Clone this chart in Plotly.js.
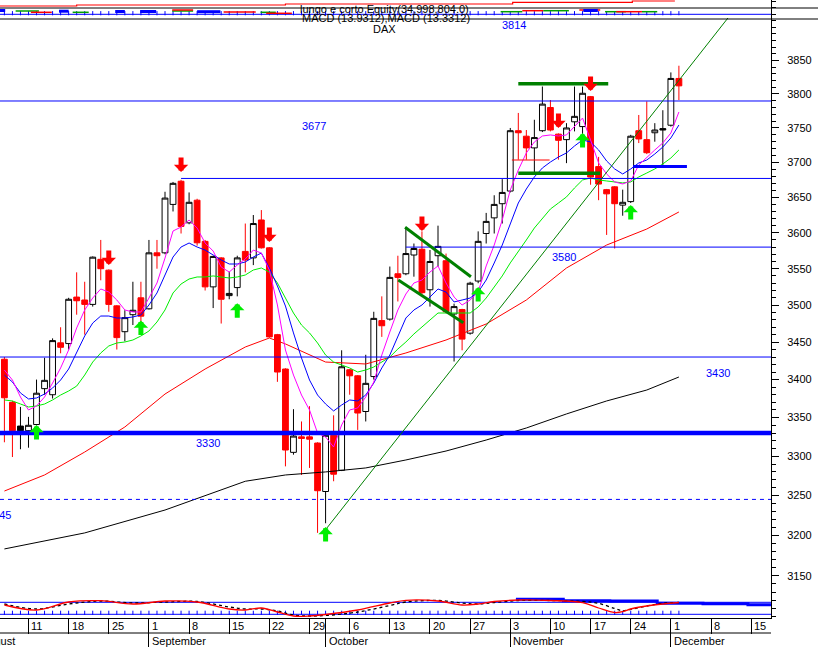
<!DOCTYPE html>
<html><head><meta charset="utf-8">
<script src="https://cdn.plot.ly/plotly-3.0.1.min.js"></script>
<style>html,body{margin:0;padding:0;background:#fff;}#chart{width:818px;height:647px;}</style>
</head><body><div id="chart"></div>
<script>
// ---------- DATA (DAX daily, 6 Aug 2003 .. 2 Dec 2003; x = trading-day index) ----------
const open  = [3427,3370,3339,3333,3341,3388,3380,3449,3448,3511,3507,3501,3563,3548,3499,3464,3487,3510,3495,3572,
               3572,3640,3673,3614,3646,3588,3525,3565,3513,3524,3574,3565,3618,3579,3460,3414,3305,3325,3325,3317,
               3255,3327,3282,3413,3405,3358,3404,3479,3481,3543,3543,3569,3577,3521,3568,3561,3488,3494,3462,3533,
               3599,3621,3641,3659,3746,3738,3721,3746,3780,3741,3733,3759,3752,3796,3694,3661,3665,3639,3644,3746,
               3733,3743,3747,3754,3823];
const high  = [3430,3372,3364,3351,3400,3429,3455,3470,3510,3545,3532,3567,3590,3549,3500,3493,3532,3532,3590,3590,
               3658,3672,3675,3657,3648,3590,3568,3566,3546,3568,3613,3625,3632,3580,3461,3415,3361,3345,3365,3318,
               3330,3353,3439,3414,3406,3433,3491,3512,3553,3568,3608,3585,3602,3576,3610,3571,3502,3495,3532,3602,
               3628,3653,3676,3750,3772,3747,3762,3811,3791,3742,3757,3811,3811,3797,3708,3662,3666,3661,3740,3769,
               3789,3757,3776,3832,3842];
const low   = [3318,3299,3309,3311,3340,3380,3375,3435,3440,3487,3460,3498,3534,3491,3440,3451,3473,3475,3494,3550,
               3570,3630,3599,3612,3582,3520,3496,3475,3508,3512,3545,3555,3578,3456,3397,3287,3302,3276,3285,3203,
               3215,3268,3281,3380,3334,3345,3400,3457,3479,3505,3541,3539,3515,3498,3553,3489,3424,3439,3460,3530,
               3585,3599,3613,3657,3704,3704,3686,3744,3745,3704,3699,3745,3737,3668,3646,3597,3578,3624,3642,3728,
               3712,3730,3695,3752,3791];
const close = [3376,3333,3333,3340,3382,3399,3452,3443,3508,3506,3501,3566,3550,3501,3456,3483,3493,3485,3572,3568,
               3649,3670,3609,3643,3586,3525,3567,3508,3516,3565,3562,3613,3579,3457,3410,3308,3326,3323,3322,3256,
               3327,3277,3417,3405,3356,3395,3482,3472,3538,3538,3571,3578,3517,3560,3581,3491,3498,3454,3530,3588,
               3616,3640,3657,3746,3743,3721,3736,3785,3747,3732,3750,3767,3801,3679,3669,3655,3641,3643,3738,3734,
               3714,3747,3749,3823,3812];
const blackBars = [2, 82];

const ma5  = [3412.7,3399.4,3377.0,3360.0,3365.2,3377.0,3395.4,3415.4,3439.4,3469.0,
              3493.4,3509.7,3522.1,3517.9,3507.0,3493.4,3490.7,3490.7,3509.7,3530.3,
              3564.8,3602.5,3608.1,3618.0,3606.7,3585.7,3574.5,3552.4,3545.4,3555.1,
              3563.4,3575.9,3571.7,3548.2,3500.2,3439.4,3406.0,3379.6,3360.0,3330.0,
              3324.8,3311.9,3340.4,3360.0,3362.6,3377.0,3396.8,3432.7,3463.6,3493.4,
              3515.2,3530.3,3534.4,3545.4,3553.8,3530.3,3511.1,3500.2,3507.0,3517.9,
              3553.8,3582.9,3618.0,3660.5,3689.1,3713.7,3729.6,3738.3,3739.8,3738.3,
              3739.8,3751.4,3764.5,3732.5,3699.2,3683.4,3672.0,3669.1,3673.4,3696.3,
              3707.8,3718.0,3728.2,3742.6,3773.4];
const ma10 = [3406.0,3396.8,3382.3,3374.4,3375.7,3380.9,3388.8,3399.4,3414.0,3436.7,
              3458.2,3475.7,3485.2,3485.2,3482.5,3482.5,3483.9,3486.6,3500.2,3516.6,
              3541.3,3566.2,3580.1,3585.7,3580.1,3575.9,3569.0,3562.1,3556.5,3556.5,
              3559.3,3566.2,3571.7,3550.9,3526.2,3498.8,3462.3,3428.7,3399.4,3379.6,
              3367.8,3358.7,3366.5,3373.1,3371.8,3379.6,3395.4,3415.4,3432.7,3458.2,
              3482.5,3493.4,3500.2,3511.1,3522.1,3517.9,3504.3,3507.0,3509.7,3517.9,
              3534.4,3557.9,3582.9,3612.4,3642.0,3661.9,3679.1,3692.0,3700.6,3707.8,
              3713.7,3723.8,3732.5,3729.6,3718.0,3702.1,3690.6,3683.4,3690.6,3699.2,
              3703.5,3712.2,3722.3,3735.4,3754.3];
const ma20 = [3373.1,3371.8,3367.8,3363.9,3365.2,3367.8,3373.1,3379.6,3384.9,3391.4,
              3406.0,3423.3,3435.4,3444.8,3448.8,3450.1,3452.8,3458.2,3464.9,3477.1,
              3493.4,3516.6,3528.9,3535.8,3538.6,3538.6,3540.0,3538.6,3537.2,3538.6,
              3541.3,3548.2,3551.0,3545.4,3530.3,3509.7,3489.3,3473.0,3462.3,3448.8,
              3432.7,3423.3,3419.4,3415.4,3410.0,3412.7,3416.7,3423.3,3430.0,3440.7,
              3450.1,3460.9,3470.3,3479.8,3489.3,3489.3,3489.3,3489.3,3489.3,3497.5,
              3509.7,3524.8,3540.0,3558.0,3573.1,3589.9,3606.7,3620.8,3633.5,3642.0,
              3650.6,3663.4,3674.8,3677.7,3674.8,3673.4,3672.0,3670.6,3672.0,3679.1,
              3684.8,3690.6,3697.8,3706.4,3718.0];
const slowDays = [0,5,10,15,20,25,30,33,35,40,45,50,55,60,65,70,75,80,84];
const slowMA   = [3255.6,3276.0,3305.4,3337.8,3380.9,3414.0,3443.4,3455.5,3447.5,3423.3,3420.7,3435.4,3452.8,3474.4,3507.0,3551.0,3582.9,3605.3,3629.3];
const longDays = [0,10,20,30,35,40,45,50,55,60,65,70,75,80,84];
const longMA   = [3183.0,3202.9,3231.6,3268.0,3276.0,3279.9,3285.0,3295.2,3306.7,3320.9,3336.5,3354.8,3371.8,3386.2,3403.4];

// horizontal levels and drawn lines
const levelValues = [3789.6, 3677, 3580, 3430, 3330, 3245];
const levelStart  = [-1, 22, 50, -1, -1, -1];
const levelLabels = ['3814','3677','3580','3430','3330'];
const labelDays   = [63.46, 38.55, 69.69, 88.87, 25.35];
const labelPrices = [3903.5, 3752.8, 3566.2, 3408.7, 3317.1];
const trendDays = [39.68, 90.11], trendVals = [3202.9, 3914.1];
const resistDays = [64, 75.2], resistVal = 3815;
const supportDays = [64, 74.2], supportVal = 3684.4;
const chanUpDays = [49.9, 58.1], chanUpVals = [3607.7, 3539.0];
const chanLoDays = [49.05, 57.15], chanLoVals = [3534.4, 3476.2];
const stopDays = [78.3, 85], stopVal = 3694;
const redMarkDays = [63.2, 67.9], redMarkVal = 3703.5;

// signals
const sellDays = [13, 22, 33, 52, 69, 73];
const sellTips = [3555.1, 3686.2, 3587.1, 3602.5, 3749.9, 3804.4];
const buyDays  = [4, 17, 29, 40, 59, 72, 78];
const buyTips  = [3340.4, 3479.1, 3502.7, 3210.4, 3524.8, 3742.6, 3639.2];

// MACD panel (panel units)
const macdDays = [0,4,8,12,16,20,24,28,30,32,34,36,38,40,44,48,50,54,57,59,61,64,68,72,74,76,77,78,80,82,84];
const macdLine = [13,8,16,17.3,14,17,16,9,8,10,6,2,2,3.5,8,15,17.7,17,13,14,16.5,18,17.5,15.3,10,5.5,6.3,9,12,14,15.5];
const macdSig  = [14,9,14,17,15,16,16.5,11,9,9,7,3,2,2.5,6,12.5,16,17.5,15,14,15.5,17.5,17.5,16.5,14.7,9.5,7.3,8.7,12,14.7,15.5];
const macdStepDays = [63.7,69.6,75.4,81.3,87,92.6,95.5];
const macdStepVals = [18.7,17.3,17,14.8,14.3,13.3,13.3];

// equity strip (panel units)
const eqDays = [-0.6, 9, 35, 63.3, 78.2, 83.5];
const eqVals = [14, 15, 16, 17.7, 19, 19];
const tradeGreen = [[1.4,4.3,9],[8.5,10.5,7.7],[20.9,23.5,9],[31.9,33.8,7.7],[61.8,64.5,8.3],[67.1,70.3,9.3],[74.8,77.4,8.3],[79.4,81.3,8.3]];
const tradeRed   = [[3.3,5.9,7.7],[20.9,23.5,10],[27.3,31.3,8],[32.6,35.8,6.7],[64.5,67.1,9.3],[71.6,74.2,10],[76.2,79.4,8.3]];
const tradeBlue  = [[-0.6,0.1,9.5],[6.8,8,8.8],[13.8,15,8.5],[16.9,18.9,8.5],[24,26.9,8.3],[72.1,73.9,9.5]];

// axis labels
const weekDays  = [3,8,13,18,23,28,33,38,43,48,53,58,63,68,73,78,83,88,93];
const weekText  = ['11','18','25','1','8','15','22','29','6','13','20','27','3','10','17','24','1','8','15'];
const monthDays = [18,40,63,83];
const monthText = ['September','October','November','December'];
const priceTicks = [3150,3200,3250,3300,3350,3400,3450,3500,3550,3600,3650,3700,3750,3800,3850];

// ---------- BUILD ----------
const N = open.length;
const idx = Array.from({length:N}, (_, i) => i);
const normIdx = idx.filter(i => !blackBars.includes(i));
const pick = (a, ids) => ids.map(i => a[i]);
const XMIN = -0.548, XMAX = 95.47;
const FONT = 'Liberation Sans, Arial, sans-serif';
const traces = [];

traces.push({type:'candlestick', x:normIdx, open:pick(open,normIdx), high:pick(high,normIdx), low:pick(low,normIdx), close:pick(close,normIdx),
  increasing:{line:{color:'#000000', width:1}, fillcolor:'#ffffff'},
  decreasing:{line:{color:'#ff0000', width:1}, fillcolor:'#ff0000'},
  whiskerwidth:0, hoverinfo:'skip', showlegend:false});
traces.push({type:'candlestick', x:blackBars, open:pick(open,blackBars), high:pick(high,blackBars), low:pick(low,blackBars), close:pick(close,blackBars),
  increasing:{line:{color:'#000000', width:1}, fillcolor:'#000000'},
  decreasing:{line:{color:'#000000', width:1}, fillcolor:'#000000'},
  whiskerwidth:0, hoverinfo:'skip', showlegend:false});

const line = (x, y, color, width, extra) => Object.assign({type:'scatter', mode:'lines', x, y, line:{color, width}, hoverinfo:'skip', showlegend:false}, extra || {});

traces.push(line(longDays, longMA, '#000000', 1));
traces.push(line(slowDays, slowMA, '#ff0000', 1));
traces.push(line(idx, ma20, '#00ee00', 1));
traces.push(line(idx, ma10, '#0000ff', 1));
traces.push(line(idx, ma5, '#ff00ff', 1));

levelValues.forEach((v, i) => {
  const x0 = levelStart[i] < 0 ? XMIN - 1 : levelStart[i];
  let w = 1, dash = 'solid';
  if (v === 3330) w = 4.5;
  if (v === 3245) dash = '4px,4px';
  traces.push(line([x0, XMAX + 1], [v, v], '#0000ff', w, {line:{color:'#0000ff', width:w, dash}}));
});
traces.push(line(stopDays, [stopVal, stopVal], '#0000ff', 3));
traces.push(line(redMarkDays, [redMarkVal, redMarkVal], '#ff0000', 1));
traces.push(line(trendDays, trendVals, '#008000', 1));
traces.push(line(resistDays, [resistVal, resistVal], '#008000', 3.5));
traces.push(line(supportDays, [supportVal, supportVal], '#008000', 3.5));
traces.push(line(chanUpDays, chanUpVals, '#008000', 3));
traces.push(line(chanLoDays, chanLoVals, '#008000', 3));

// MACD panel
traces.push(line([XMIN-1, XMAX+1], [15.7, 15.7], '#0000ff', 1, {yaxis:'y2'}));
traces.push(line([XMIN-1, XMAX+1], [3.7, 3.7], '#0000ff', 1, {yaxis:'y2'}));
traces.push(line(macdStepDays, macdStepVals, '#0000ff', 3, {yaxis:'y2', line:{color:'#0000ff', width:3, shape:'hv'}}));
traces.push({type:'scatter', mode:'markers', x:idx, y:idx.map(() => 5.2), yaxis:'y2', hoverinfo:'skip', showlegend:false,
  marker:{symbol:'line-ns', size:3, line:{color:'#0000ff', width:1}}});
traces.push(line(macdDays, macdSig, '#000000', 1.3, {yaxis:'y2', line:{color:'#000000', width:1.3, dash:'dot', shape:'spline'}}));
traces.push(line(macdDays, macdLine, '#ff0000', 1.3, {yaxis:'y2', line:{color:'#ff0000', width:1.3, shape:'spline'}}));

// equity strip
const segs = (list) => { const x = [], y = []; list.forEach(s => { x.push(s[0], s[1], null); y.push(s[2], s[2], null); }); return {x, y}; };
traces.push(line([XMIN-1, XMAX+1], [5.7, 5.7], '#0000ff', 1, {yaxis:'y3'}));
traces.push({type:'scatter', mode:'markers', x:idx, y:idx.map(() => 6.8), yaxis:'y3', hoverinfo:'skip', showlegend:false,
  marker:{symbol:'line-ns', size:3, line:{color:'#0000ff', width:1}}});
const sg = segs(tradeGreen), sr = segs(tradeRed), sb = segs(tradeBlue);
traces.push(line(sg.x, sg.y, '#00a000', 1.5, {yaxis:'y3'}));
traces.push(line(sr.x, sr.y, '#ff0000', 1.5, {yaxis:'y3'}));
traces.push(line(sb.x, sb.y, '#0000ff', 3, {yaxis:'y3'}));
traces.push(line(eqDays, eqVals, '#ff0000', 1.2, {yaxis:'y3', line:{color:'#ff0000', width:1.2, shape:'hv'}}));

// ---------- ANNOTATIONS ----------
const ann = [];
const L = Math.log10;
sellDays.forEach((d, i) => ann.push({xref:'x', yref:'y', x:d, y:L(sellTips[i]), text:'', showarrow:true, ax:0, ay:-16,
  arrowhead:1, arrowsize:0.48, arrowwidth:5, arrowcolor:'#ff0000', standoff:0}));
buyDays.forEach((d, i) => ann.push({xref:'x', yref:'y', x:d, y:L(buyTips[i]), text:'', showarrow:true, ax:0, ay:16,
  arrowhead:1, arrowsize:0.48, arrowwidth:5, arrowcolor:'#00ee00', standoff:0}));
levelLabels.forEach((t, i) => ann.push({xref:'x', yref:'y', x:labelDays[i], y:L(labelPrices[i]), text:t, showarrow:false,
  xanchor:'center', yanchor:'middle', font:{family:FONT, size:11, color:'#0000ff'}}));
ann.push({xref:'x', yref:'y', x:1.07, y:L(3225.4), text:'3245', showarrow:false, xanchor:'right', yanchor:'middle',
  font:{family:FONT, size:11, color:'#0000ff'}});
weekDays.forEach((d, i) => ann.push({xref:'x', yref:'paper', x:d, y:-8/618, text:weekText[i], showarrow:false,
  xanchor:'left', yanchor:'middle', xshift:1, font:{family:FONT, size:11, color:'#000000'}}));
monthDays.forEach((d, i) => ann.push({xref:'x', yref:'paper', x:d, y:-23/618, text:monthText[i], showarrow:false,
  xanchor:'left', yanchor:'middle', xshift:1, font:{family:FONT, size:11, color:'#000000'}}));
ann.push({xref:'x', yref:'paper', x:1.63, y:-23/618, text:'August', showarrow:false, xanchor:'right', yanchor:'middle',
  font:{family:FONT, size:11, color:'#000000'}});
ann.push({xref:'paper', yref:'paper', x:298/771, y:(618-9)/618, text:'lungo e corto Equity(34,998,804.0)', showarrow:false,
  xanchor:'left', yanchor:'middle', font:{family:FONT, size:11, color:'#000000'}});
ann.push({xref:'paper', yref:'paper', x:300/771, y:(618-17.5)/618, text:'MACD (13.9312),MACD (13.3312)', showarrow:false,
  xanchor:'left', yanchor:'middle', font:{family:FONT, size:11, color:'#000000'}});
ann.push({xref:'paper', yref:'paper', x:384.5/771, y:(618-29)/618, text:'DAX', showarrow:false,
  xanchor:'center', yanchor:'middle', font:{family:FONT, size:11, color:'#000000'}});

const shapes = [
  {type:'line', xref:'paper', yref:'paper', x0:0, x1:818/771, y0:(618-8)/618, y1:(618-8)/618, line:{color:'#000000', width:1}},
  {type:'line', xref:'paper', yref:'paper', x0:0, x1:818/771, y0:(618-19)/618, y1:(618-19)/618, line:{color:'#000000', width:1}},
  {type:'line', xref:'paper', yref:'paper', x0:0, x1:1, y0:-15/618, y1:-15/618, line:{color:'#000000', width:1}}
];

const minorVals = [];
for (let v = 3100; v <= 3940; v += 10) minorVals.push(v);

const layout = {
  width:818, height:647, margin:{l:0, r:47, t:0, b:29, pad:0},
  paper_bgcolor:'#ffffff', plot_bgcolor:'rgba(0,0,0,0)', showlegend:false,
  boxgap:0.15, boxgroupgap:0.15,
  xaxis:{range:[XMIN, XMAX], showgrid:false, zeroline:false, showticklabels:false, fixedrange:true,
    showline:true, linecolor:'#000000', linewidth:1,
    tickmode:'array', tickvals:monthDays, ticks:'outside', ticklen:29, tickcolor:'#000000', tickwidth:1,
    minor:{tickmode:'array', tickvals:weekDays, ticks:'outside', ticklen:15, tickcolor:'#000000', tickwidth:1},
    rangeslider:{visible:false}},
  yaxis:{type:'log', range:[3.491157, 3.595672], side:'right', showgrid:false, zeroline:false, fixedrange:true,
    showline:true, linecolor:'#000000', linewidth:1,
    tickmode:'array', tickvals:priceTicks, ticktext:priceTicks.map(String), ticks:'outside', ticklen:7, tickcolor:'#000000',
    ticklabelstandoff:6, tickfont:{family:FONT, size:11, color:'#000000'},
    minor:{tickmode:'array', tickvals:minorVals, ticks:'outside', ticklen:4, tickcolor:'#000000'}},
  yaxis2:{domain:[0, 22/618], range:[0, 22], visible:false, fixedrange:true, anchor:'x'},
  yaxis3:{domain:[598/618, 1], range:[0, 20], visible:false, fixedrange:true, anchor:'x'},
  annotations:ann, shapes
};

Plotly.newPlot('chart', traces, layout, {displayModeBar:false, staticPlot:true});
</script></body></html>
